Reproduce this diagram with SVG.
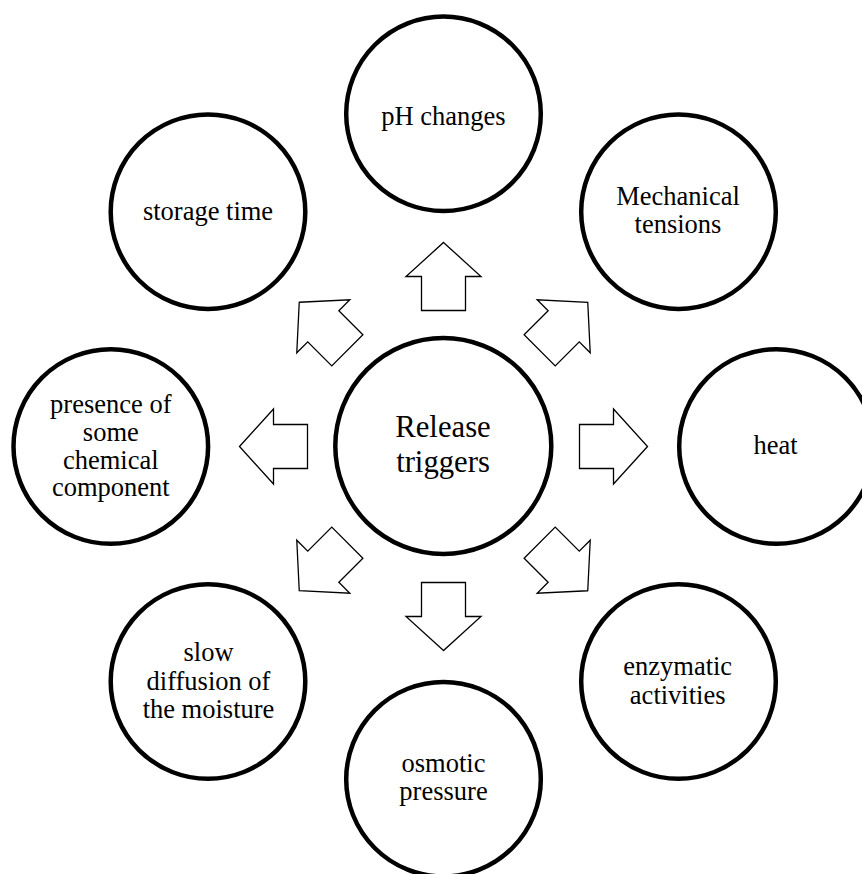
<svg xmlns="http://www.w3.org/2000/svg" xmlns:xlink="http://www.w3.org/1999/xlink" width="862" height="874" viewBox="0 0 862 874">
  <style>
    .node { fill: #ffffff; stroke: #000000; stroke-width: 4.5; }
    .lbl { font-family: "Liberation Serif", "Times New Roman", serif; font-size: 26.5px; fill: #000000; text-anchor: middle; }
    .big { font-size: 30.7px; }
    .arrow { fill: #ffffff; stroke: #000000; stroke-width: 1.3; stroke-linejoin: miter; }
  </style>
  <defs>
    <path id="arr" class="arrow" d="M 443.5 242.5 L 481 276.5 L 465.5 276.5 L 465.5 310.5 L 421.5 310.5 L 421.5 276.5 L 406 276.5 Z"/>
  </defs>
  <rect x="0" y="0" width="862" height="874" fill="#ffffff"/>

  <g id="connectors">
    <use xlink:href="#arr" href="#arr"/>
    <use xlink:href="#arr" href="#arr" transform="rotate(45 443.5 446.5)"/>
    <use xlink:href="#arr" href="#arr" transform="rotate(90 443.5 446.5)"/>
    <use xlink:href="#arr" href="#arr" transform="rotate(135 443.5 446.5)"/>
    <use xlink:href="#arr" href="#arr" transform="rotate(180 443.5 446.5)"/>
    <use xlink:href="#arr" href="#arr" transform="rotate(225 443.5 446.5)"/>
    <use xlink:href="#arr" href="#arr" transform="rotate(270 443.5 446.5)"/>
    <use xlink:href="#arr" href="#arr" transform="rotate(315 443.5 446.5)"/>
  </g>

  <g id="center">
    <circle class="node" cx="443.3" cy="446" r="108"/>
    <text class="lbl big" x="443" y="437">Release</text>
    <text class="lbl big" x="443" y="472">triggers</text>
  </g>

  <g id="ph">
    <circle class="node" cx="443.5" cy="113.8" r="97.3"/>
    <text class="lbl" x="443.5" y="125">pH changes</text>
  </g>

  <g id="mechanical">
    <circle class="node" cx="678.5" cy="211.7" r="97.3"/>
    <text class="lbl" x="678" y="205">Mechanical</text>
    <text class="lbl" x="678" y="233.3">tensions</text>
  </g>

  <g id="heat">
    <circle class="node" cx="776.5" cy="446.5" r="97.3"/>
    <text class="lbl" x="775.5" y="453.7">heat</text>
  </g>

  <g id="enzymatic">
    <circle class="node" cx="678.5" cy="681.5" r="97.3"/>
    <text class="lbl" x="677.7" y="675.3">enzymatic</text>
    <text class="lbl" x="677.7" y="703.7">activities</text>
  </g>

  <g id="osmotic">
    <circle class="node" cx="443.5" cy="779.2" r="97.3"/>
    <text class="lbl" x="443.5" y="772">osmotic</text>
    <text class="lbl" x="443.5" y="800.3">pressure</text>
  </g>

  <g id="slow">
    <circle class="node" cx="208" cy="681.5" r="97.3"/>
    <text class="lbl" x="208.5" y="661.3">slow</text>
    <text class="lbl" x="208.5" y="689.5">diffusion of</text>
    <text class="lbl" x="208.5" y="718">the moisture</text>
  </g>

  <g id="presence">
    <circle class="node" cx="110.8" cy="446.5" r="97.3"/>
    <text class="lbl" x="110.8" y="413.3">presence of</text>
    <text class="lbl" x="110.8" y="441">some</text>
    <text class="lbl" x="110.8" y="468.7">chemical</text>
    <text class="lbl" x="110.8" y="496.3">component</text>
  </g>

  <g id="storage">
    <circle class="node" cx="208" cy="211.7" r="97.3"/>
    <text class="lbl" x="208" y="220">storage time</text>
  </g>
</svg>
